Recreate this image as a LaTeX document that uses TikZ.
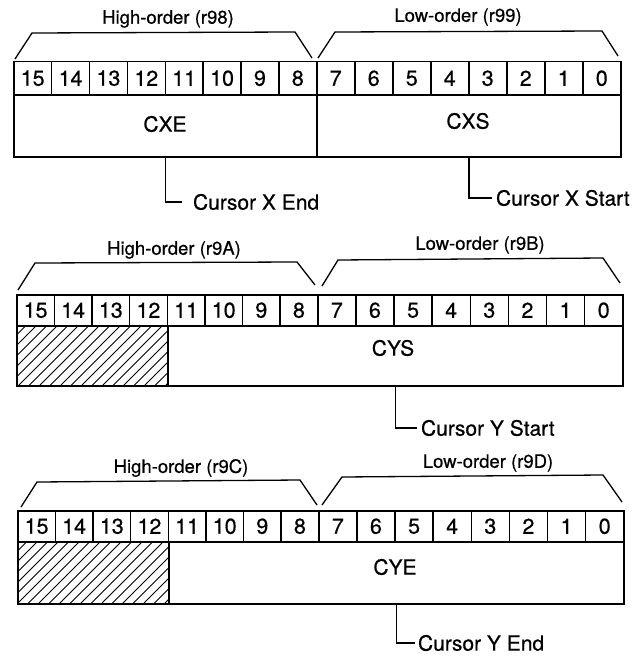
\documentclass[tikz,border=0pt]{standalone}
\usepackage{fontspec}
\setmainfont{TeX Gyre Heros}[FakeBold=0.5]
\tikzset{
  cell/.style={draw, line width=1.5pt, inner sep=0pt, anchor=north west,
    font=\fontsize{21.5}{21.5}\selectfont},
  fieldbox/.style={draw, line width=1.8pt, inner sep=0pt, anchor=north west},
  hatchbox/.style={draw, line width=1.8pt, inner sep=0pt, anchor=north west},
  fieldtxt/.style={inner sep=0pt, font=\fontsize{21}{21}\selectfont},
  grptxt/.style={inner sep=0pt, font=\fontsize{18.5}{18.5}\selectfont},
  bracket/.style={line width=1.3pt},
  conn/.style={line width=1.3pt},
  hatchline/.style={line width=1pt},
  clabel/.style={anchor=west, inner ysep=0pt, outer sep=0pt,
    font=\fontsize{21}{21}\selectfont},
}
% #1 prefix, #2 left, #3 middle, #4 right, #5 top, #6 bottom of bit row
\newcommand\bitrow[6]{%
  \pgfmathsetmacro\hw{(#3-#2)/8}%
  \pgfmathsetmacro\lw{(#4-#3)/8}%
  \pgfmathsetmacro\rh{#6-#5}%
  \foreach \i in {0,...,7}{%
    \pgfmathtruncatemacro\bit{15-\i}%
    \node[cell, minimum width=\hw pt, minimum height=\rh pt] (#1b\bit) at ({#2+\i*\hw},#5) {\bit};
  }%
  \foreach \i in {0,...,7}{%
    \pgfmathtruncatemacro\bit{7-\i}%
    \node[cell, minimum width=\lw pt, minimum height=\rh pt] (#1b\bit) at ({#3+\i*\lw},#5) {\bit};
  }%
}
% hatching inside a named node: #1 node name, #2 x0, #3 x1, #4 y0 (top), #5 y1 (bottom)
\newcommand\hatchfill[5]{%
  \begin{scope}
    \clip (#1.south west) rectangle (#1.north east);
    \pgfmathsetmacro\hh{#5-#4}%
    \foreach \k in {0,...,24}{%
      \draw[hatchline] ({#2-\hh+\k*10.5},#5) -- ++(\hh,-\hh);
    }
  \end{scope}
}
\begin{document}
\begin{tikzpicture}[x=1pt,y=-1pt]
\useasboundingbox[fill=white] (0,0) rectangle (638,660);

% ---------------- Register 1 (r98 / r99) ----------------
\bitrow{a}{13}{316}{620}{61}{94}
\node[fieldbox, minimum width=303pt, minimum height=62pt] (cxe) at (13,94) {};
\node[fieldbox, minimum width=304pt, minimum height=62pt] (cxs) at (316,94) {};
\node[fieldtxt] (cxetxt) at (165,124) {CXE};
\node[fieldtxt] (cxstxt) at (468,121) {CXS};
\draw[bracket] (15,59) -- (32,33) -- (295,32) -- (312,58);
\draw[bracket] (318,58) -- (335,32) -- (602,31) -- (618,56);
\node[grptxt] (hi1) at (168,19) {High-order (r98)};
\node[grptxt] (lo1) at (458,17) {Low-order (r99)};
\node[clabel, inner xsep=11pt] (lcxe) at (182,202) {Cursor X End};
\node[clabel, inner xsep=4pt] (lcxs) at (492,198) {Cursor X Start};
\draw[conn] (cxe.south) |- (lcxe.west);
\draw[conn] (cxs.south) |- (lcxs.west);

% ---------------- Register 2 (r9A / r9B) ----------------
\bitrow{b}{16}{317}{622}{294}{325}
\node[hatchbox, minimum width=151pt, minimum height=60pt] (hb) at (16,325) {};
\hatchfill{hb}{16}{167}{325}{385}
\node[hatchbox, minimum width=151pt, minimum height=60pt] at (16,325) {};
\node[fieldbox, minimum width=455pt, minimum height=60pt] (cys) at (167,325) {};
\node[fieldtxt] (cystxt) at (393,348) {CYS};
\draw[bracket] (18,290) -- (35,263) -- (297,262) -- (315,285);
\draw[bracket] (322,286) -- (338,260) -- (603,258) -- (620,283);
\node[grptxt] (hi2) at (174,250) {High-order (r9A)};
\node[grptxt] (lo2) at (480,245) {Low-order (r9B)};
\node[clabel, inner xsep=4pt] (lcys) at (417,428) {Cursor Y Start};
\draw[conn] (cys.south) |- (lcys.west);

% ---------------- Register 3 (r9C / r9D) ----------------
\bitrow{c}{17}{318}{623}{510}{541}
\node[hatchbox, minimum width=151pt, minimum height=62pt] (hc) at (17,541) {};
\hatchfill{hc}{17}{168}{541}{603}
\node[hatchbox, minimum width=151pt, minimum height=62pt] at (17,541) {};
\node[fieldbox, minimum width=455pt, minimum height=62pt] (cye) at (168,541) {};
\node[fieldtxt] (cyetxt) at (395,567) {CYE};
\draw[bracket] (21,507) -- (37,482) -- (300,480) -- (317,505);
\draw[bracket] (322,505) -- (342,477) -- (603,475) -- (622,502);
\node[grptxt] (hi3) at (181,468) {High-order (r9C)};
\node[grptxt] (lo3) at (488,463) {Low-order (r9D)};
\node[clabel, inner xsep=3pt] (lcye) at (415,643) {Cursor Y End};
\draw[conn] (cye.south) |- (lcye.west);
\end{tikzpicture}
\end{document}
